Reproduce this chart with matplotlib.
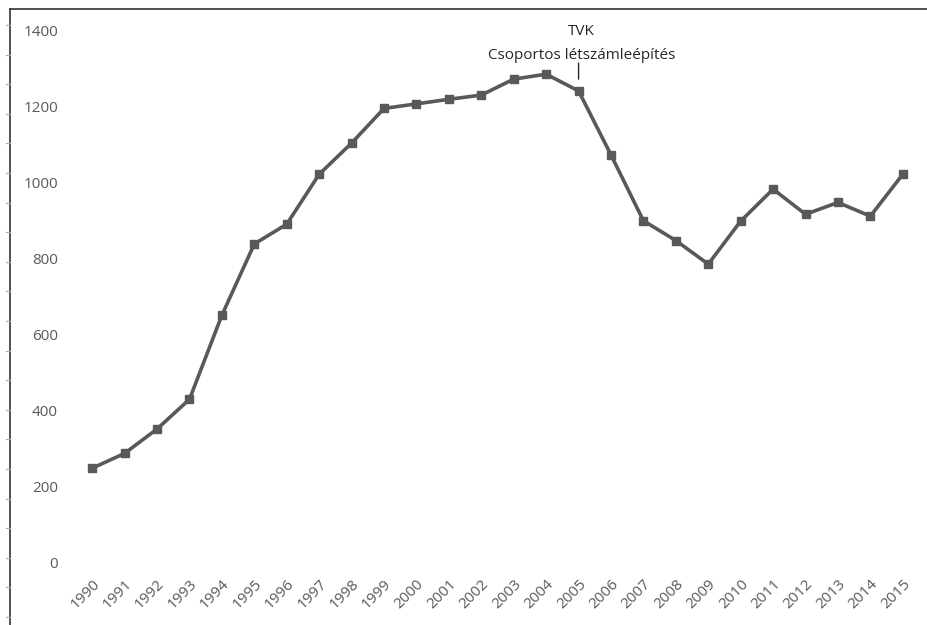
import matplotlib
matplotlib.use("Agg")
import matplotlib.pyplot as plt
from matplotlib.lines import Line2D

# data
years = list(range(1990, 2016))
values = [249, 288, 352, 430, 651, 838, 890, 1021, 1103, 1194,
          1206, 1218, 1229, 1271, 1284, 1240, 1072, 899, 847, 785,
          898, 982, 916, 947, 911, 1021]
y_ticks = [0, 200, 400, 600, 800, 1000, 1200, 1400]
note_year = 2005
note_text = "TVK\nCsoportos létszámleépítés"

GRAY = "#595959"

plt.rcParams["font.family"] = ["Open Sans", "DejaVu Sans"]

fig = plt.figure(figsize=(9.27, 6.25), dpi=100)
# plot area in pixels: left 76, right 919, top 30, bottom 563
ax = fig.add_axes([76 / 927, 1 - 563 / 625, (919 - 76) / 927, (563 - 30) / 625])

xs = list(range(len(years)))
ax.plot(xs, values, color=GRAY, linewidth=2.6, marker="s", markersize=6,
        markerfacecolor=GRAY, markeredgecolor=GRAY, solid_joinstyle="miter")

ax.set_xlim(-0.5, len(years) - 0.5)
ax.set_ylim(0, 1400)
ax.set_yticks(y_ticks)
ax.set_yticklabels([str(v) for v in y_ticks])
ax.set_xticks(xs)
ax.set_xticklabels([str(y) for y in years], rotation=45, ha="right",
                   va="top", rotation_mode="anchor")

for side in ax.spines.values():
    side.set_visible(False)
ax.tick_params(axis="both", length=0, colors=GRAY, labelsize=11)
ax.tick_params(axis="y", pad=13)
ax.tick_params(axis="x", pad=10)

# annotation for the 2005 layoff: text plus a vertical leader line
i = years.index(note_year)
ax.text(i + 0.1, 1415, note_text, ha="center", va="top", fontsize=11,
        color="#262626", linespacing=1.75, clip_on=False)
ax.annotate("", xy=(i, values[i]), xytext=(i, 1313),
            annotation_clip=False,
            arrowprops=dict(arrowstyle="-", color="#262626", lw=1,
                            shrinkA=0, shrinkB=8.5))

# screenshot frame: top and left border with little ruler ticks
fig.add_artist(Line2D([10 / 927, 1], [1 - 9 / 625] * 2, color="#333333", lw=1.2))
fig.add_artist(Line2D([10 / 927] * 2, [0, 1 - 9 / 625], color="#333333", lw=1.2))
y = 25
while y < 625:
    fig.add_artist(Line2D([6 / 927, 10 / 927], [1 - y / 625] * 2,
                          color="#aaaaaa", lw=0.8))
    y += 29.6

fig.savefig("out.png", dpi=100)
